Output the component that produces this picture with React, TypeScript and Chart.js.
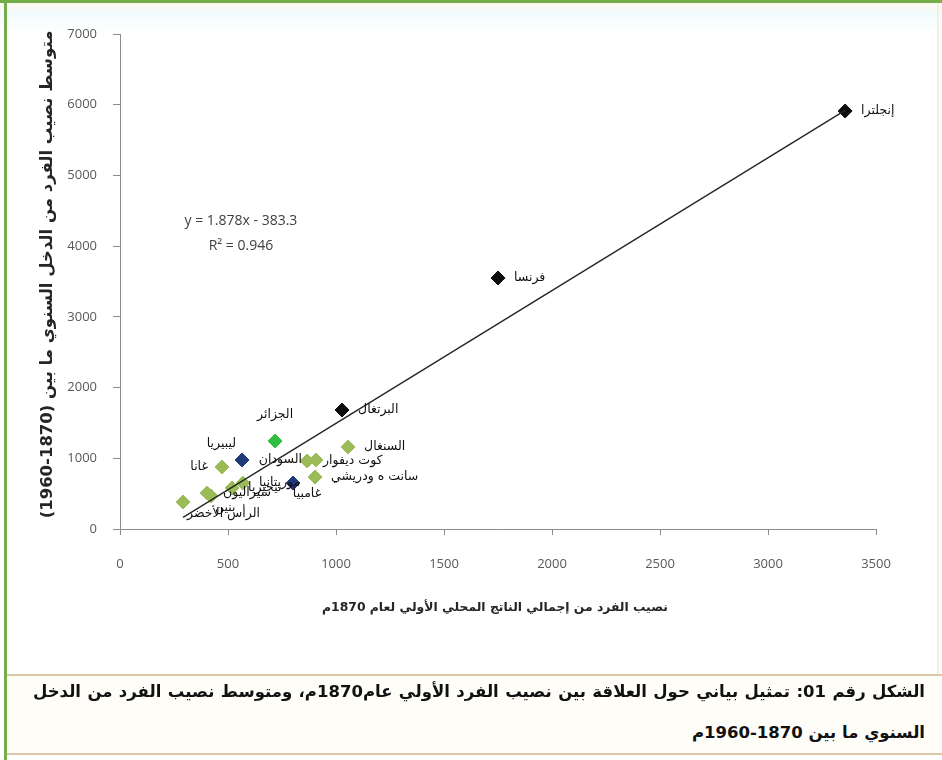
import React, { useEffect, useRef } from "react";
import { Chart, registerables } from "chart.js";

Chart.register(...registerables);

// Country names, GDP per capita in 1870 and mean annual income per capita 1870-1960
const countries = [
  "إنجلترا",
  "فرنسا",
  "البرتغال",
  "الجزائر",
  "ليبيريا",
  "غانا",
  "السنغال",
  "كوت ديفوار",
  "السودان",
  "سانت ه ودريشي",
  "غامبيا",
  "موريتانيا",
  "نيجيريا",
  "سيراليون",
  "بنين",
  "الرأس الأخضر",
];
const gdp1870 = [3357, 1750, 1028, 718, 565, 472, 1056, 866, 907, 903, 801, 569, 519, 403, 421, 292];
const meanIncome = [5911, 3550, 1683, 1244, 976, 877, 1160, 962, 976, 735, 650, 650, 580, 509, 467, 382];
const groups = [
  "europe", "europe", "europe", "algeria", "liberia", "africa", "africa", "africa",
  "africa", "africa", "liberia", "africa", "africa", "africa", "africa", "africa",
];
const labelPlacement = [
  "right", "right", "right", "top", "topLeft", "left", "right", "right",
  "left", "right", "bottom", "right", "right", "right", "bottomRight", "bottomRight",
];

// Linear trend reported on the chart
const trendSlope = 1.878;
const trendIntercept = -383.3;
const trendR2 = 0.946;

const xTicksMax = 3500;
const xTicksStep = 500;
const yTicksMax = 7000;
const yTicksStep = 1000;

const xTitle = "نصيب الفرد من إجمالي الناتج المحلي الأولي لعام 1870م";
const yTitle = "متوسط نصيب الفرد من الدخل السنوي ما بين (1870-1960)";
const captionLine1 =
  "الشكل رقم 01: تمثيل بياني حول العلاقة بين نصيب الفرد الأولي عام1870م، ومتوسط نصيب الفرد من الدخل";
const captionLine2 = "السنوي ما بين 1870-1960م";

const groupColors: Record<string, string> = {
  europe: "#0d0d0d",
  algeria: "#2fbf3f",
  liberia: "#1f3a78",
  africa: "#9bbb59",
};

const ARABIC_FONT = "'DejaVu Sans', sans-serif";
const TICK_FONT = "'Open Sans', 'Liberation Sans', sans-serif";

const textPlugin = {
  id: "scatterText",
  afterDatasetsDraw(chart: any) {
    const { ctx, scales, chartArea } = chart;
    const xs = scales.x;
    const ys = scales.y;

    // point labels
    ctx.save();
    ctx.fillStyle = "#111111";
    ctx.font = `12.5px ${ARABIC_FONT}`;
    ctx.direction = "rtl";
    ctx.textBaseline = "middle";
    countries.forEach((name, i) => {
      const px = xs.getPixelForValue(gdp1870[i]);
      const py = ys.getPixelForValue(meanIncome[i]);
      let tx = px;
      let ty = py;
      let align: CanvasTextAlign = "left";
      switch (labelPlacement[i]) {
        case "right":
          tx = px + 16;
          align = "left";
          break;
        case "left":
          tx = px - 14;
          align = "right";
          break;
        case "top":
          ty = py - 26;
          align = "center";
          break;
        case "topLeft":
          tx = px - 6;
          ty = py - 16;
          align = "right";
          break;
        case "bottom":
          tx = px + 14;
          ty = py + 11;
          align = "center";
          break;
        case "bottomRight":
          tx = px + 4;
          ty = py + 12;
          align = "left";
          break;
      }
      ctx.textAlign = align;
      ctx.fillText(name, tx, ty);
    });
    ctx.restore();

    // trend equation
    ctx.save();
    ctx.fillStyle = "#404040";
    ctx.font = `14px ${TICK_FONT}`;
    ctx.textAlign = "center";
    ctx.textBaseline = "middle";
    const ex = xs.getPixelForValue(560);
    const ey = ys.getPixelForValue(4360);
    ctx.fillText(`y = ${trendSlope}x - ${Math.abs(trendIntercept)}`, ex, ey);
    ctx.fillText(`R² = ${trendR2}`, ex, ey + 25);
    ctx.restore();

    // axis titles (right-to-left text)
    const fitFont = (text: string, target: number, base: number) => {
      ctx.font = `bold ${base}px ${ARABIC_FONT}`;
      const w = ctx.measureText(text).width;
      return Math.max(8, Math.min(base * 1.6, (base * target) / w));
    };

    ctx.save();
    ctx.fillStyle = "#262626";
    ctx.direction = "rtl";
    ctx.textAlign = "center";
    ctx.textBaseline = "middle";
    const xs1 = fitFont(xTitle, 346, 13);
    ctx.font = `bold ${xs1}px ${ARABIC_FONT}`;
    ctx.fillText(xTitle, (chartArea.left + chartArea.right) / 2 - 3, chartArea.bottom + 79);
    ctx.restore();

    ctx.save();
    ctx.fillStyle = "#262626";
    ctx.direction = "rtl";
    ctx.textAlign = "center";
    ctx.textBaseline = "middle";
    const ys1 = fitFont(yTitle, 488, 13);
    ctx.font = `bold ${ys1}px ${ARABIC_FONT}`;
    ctx.translate(48, (chartArea.top + chartArea.bottom) / 2 - 7);
    ctx.rotate(-Math.PI / 2);
    ctx.fillText(yTitle, 0, 0);
    ctx.restore();
  },
};

function ScatterChart() {
  const canvasRef = useRef<HTMLCanvasElement | null>(null);

  useEffect(() => {
    if (!canvasRef.current) return;
    const points = gdp1870.map((x, i) => ({ x, y: meanIncome[i] }));
    const colors = groups.map((g) => groupColors[g]);
    const xMin = Math.min(...gdp1870);
    const xMax = Math.max(...gdp1870);
    const trend = [xMin, xMax].map((x) => ({ x, y: trendSlope * x + trendIntercept }));

    const chart = new Chart(canvasRef.current, {
      type: "scatter",
      data: {
        datasets: [
          {
            type: "line",
            data: trend,
            borderColor: "#262626",
            borderWidth: 1.4,
            pointRadius: 0,
            fill: false,
            order: 0,
          } as any,
          {
            type: "scatter",
            data: points,
            pointStyle: "rectRot",
            pointRadius: 7,
            pointBackgroundColor: colors,
            pointBorderColor: colors,
            pointBorderWidth: 1,
            order: 1,
          },
        ],
      },
      options: {
        responsive: false,
        animation: false,
        layout: { padding: { left: 0, top: 34, right: 66, bottom: 0 } },
        plugins: {
          legend: { display: false },
          tooltip: { enabled: false },
        },
        scales: {
          x: {
            type: "linear",
            min: 0,
            max: xTicksMax,
            afterFit: (s: any) => {
              s.height = 131;
            },
            ticks: {
              stepSize: xTicksStep,
              padding: 21,
              color: "#595959",
              font: { family: TICK_FONT, size: 13 },
              maxRotation: 0,
              callback: (v: any) => String(v),
            },
            grid: {
              drawOnChartArea: false,
              drawTicks: true,
              tickLength: 6,
              color: "#8c8c8c",
            },
            border: { color: "#8c8c8c", width: 1 },
          },
          y: {
            type: "linear",
            min: 0,
            max: yTicksMax,
            afterFit: (s: any) => {
              s.width = 120;
            },
            ticks: {
              stepSize: yTicksStep,
              padding: 16,
              color: "#595959",
              font: { family: TICK_FONT, size: 13 },
              callback: (v: any) => String(v),
            },
            grid: {
              drawOnChartArea: false,
              drawTicks: true,
              tickLength: 7,
              color: "#8c8c8c",
            },
            border: { color: "#8c8c8c", width: 1 },
          },
        },
      },
      plugins: [textPlugin],
    });
    return () => chart.destroy();
  }, []);

  return <canvas ref={canvasRef} width={942} height={660} style={{ display: "block" }} />;
}

export default function App() {
  const captionStyle: React.CSSProperties = {
    position: "absolute",
    right: 17,
    fontFamily: ARABIC_FONT,
    fontWeight: "bold",
    fontSize: 16.5,
    color: "#111111",
    direction: "rtl",
    whiteSpace: "nowrap",
  };
  return (
    <div
      style={{
        position: "absolute",
        left: 0,
        top: 0,
        width: 942,
        height: 760,
        overflow: "hidden",
        background: "linear-gradient(to bottom, #fff8ea 0px, #f3fbff 14px, #ffffff 32px)",
      }}
    >
      <div style={{ position: "absolute", left: 0, top: 0, width: 942, height: 660 }}>
        <ScatterChart />
      </div>
      <div style={{ position: "absolute", left: 0, top: 0, width: 942, height: 3, background: "#74ad4a" }} />
      <div style={{ position: "absolute", left: 4, top: 0, width: 3, height: 760, background: "#74ad4a" }} />
      <div style={{ position: "absolute", left: 937, top: 3, width: 2, height: 672, background: "#f6efdc" }} />
      <div style={{ position: "absolute", left: 7, top: 676, width: 935, height: 77, background: "#fffdf8" }} />
      <div style={{ position: "absolute", left: 7, top: 674, width: 935, height: 2, background: "#dcc7a8" }} />
      <div style={{ position: "absolute", left: 7, top: 753, width: 935, height: 2, background: "#dcc7a8" }} />
      <div
        style={{
          ...captionStyle,
          top: 680,
          left: 33,
          whiteSpace: "normal",
          textAlign: "justify",
          textAlignLast: "justify",
          lineHeight: "24px",
        }}
      >
        {captionLine1}
      </div>
      <div style={{ ...captionStyle, top: 721, lineHeight: "24px" }}>{captionLine2}</div>
    </div>
  );
}
